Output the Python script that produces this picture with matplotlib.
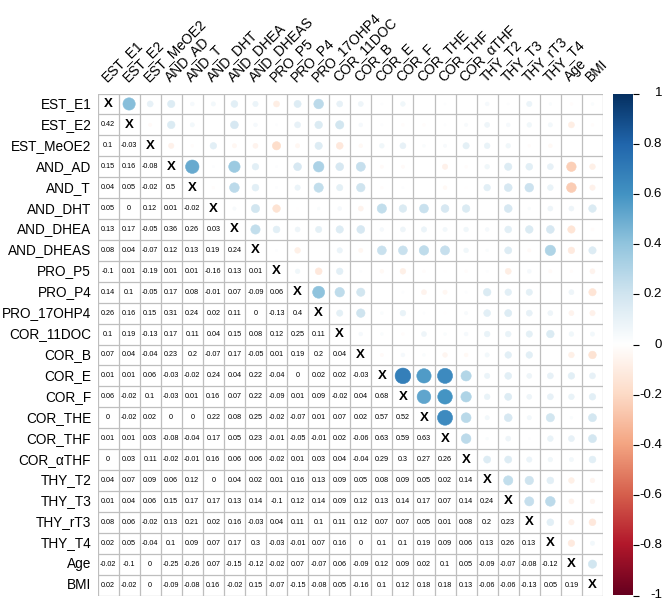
import numpy as np
import matplotlib
matplotlib.use("Agg")
import matplotlib.pyplot as plt
from matplotlib.colors import LinearSegmentedColormap
from matplotlib.transforms import blended_transform_factory

matplotlib.rc('font', family=['Liberation Sans', 'DejaVu Sans'])

labels = ["EST_E1", "EST_E2", "EST_MeOE2", "AND_AD", "AND_T", "AND_DHT", "AND_DHEA",
          "AND_DHEAS", "PRO_P5", "PRO_P4", "PRO_17OHP4", "COR_11DOC", "COR_B", "COR_E",
          "COR_F", "COR_THE", "COR_THF", "COR_\u03b1THF", "THY_T2", "THY_T3", "THY_rT3",
          "THY_T4", "Age", "BMI"]

# lower triangle, row by row (row i holds correlations with columns 0..i-1)
lower = [
    [],
    [0.42],
    [0.1, -0.03],
    [0.15, 0.16, -0.08],
    [0.04, 0.05, -0.02, 0.5],
    [0.05, 0, 0.12, 0.01, -0.02],
    [0.13, 0.17, -0.05, 0.36, 0.26, 0.03],
    [0.08, 0.04, -0.07, 0.12, 0.13, 0.19, 0.24],
    [-0.1, 0.01, -0.19, 0.01, 0.01, -0.16, 0.13, 0.01],
    [0.14, 0.1, -0.05, 0.17, 0.08, -0.01, 0.07, -0.09, 0.06],
    [0.26, 0.16, 0.15, 0.31, 0.24, 0.02, 0.11, 0, -0.13, 0.4],
    [0.1, 0.19, -0.13, 0.17, 0.11, 0.04, 0.15, 0.08, 0.12, 0.25, 0.11],
    [0.07, 0.04, -0.04, 0.23, 0.2, -0.07, 0.17, -0.05, 0.01, 0.19, 0.2, 0.04],
    [0.01, 0.01, 0.06, -0.03, -0.02, 0.24, 0.04, 0.22, -0.04, 0, 0.02, 0.02, -0.03],
    [0.06, -0.02, 0.1, -0.03, 0.01, 0.16, 0.07, 0.22, -0.09, 0.01, 0.09, -0.02, 0.04, 0.68],
    [0, -0.02, 0.02, 0, 0, 0.22, 0.08, 0.25, -0.02, -0.07, 0.01, 0.07, 0.02, 0.57, 0.52],
    [0.01, 0.01, 0.03, -0.08, -0.04, 0.17, 0.05, 0.23, -0.01, -0.05, -0.01, 0.02, -0.06,
     0.63, 0.59, 0.63],
    [0, 0.03, 0.11, -0.02, -0.01, 0.16, 0.06, 0.06, -0.02, 0.01, 0.03, 0.04, -0.04,
     0.29, 0.3, 0.27, 0.26],
    [0.04, 0.07, 0.09, 0.06, 0.12, 0, 0.04, 0.02, 0.01, 0.16, 0.13, 0.09, 0.05,
     0.08, 0.09, 0.05, 0.02, 0.14],
    [0.01, 0.04, 0.06, 0.15, 0.17, 0.17, 0.13, 0.14, -0.1, 0.12, 0.14, 0.09, 0.12,
     0.13, 0.14, 0.17, 0.07, 0.14, 0.24],
    [0.08, 0.06, -0.02, 0.13, 0.21, 0.02, 0.16, -0.03, 0.04, 0.11, 0.1, 0.11, 0.12,
     0.07, 0.07, 0.05, 0.01, 0.08, 0.2, 0.23],
    [0.02, 0.05, -0.04, 0.1, 0.09, 0.07, 0.17, 0.3, -0.03, -0.01, 0.07, 0.16, 0,
     0.1, 0.1, 0.19, 0.09, 0.06, 0.13, 0.26, 0.13],
    [-0.02, -0.1, 0, -0.25, -0.26, 0.07, -0.15, -0.12, -0.02, 0.07, -0.07, 0.06, -0.09,
     0.12, 0.09, 0.02, 0.1, 0.05, -0.09, -0.07, -0.08, -0.12],
    [0.02, -0.02, 0, -0.09, -0.08, 0.16, -0.02, 0.15, -0.07, -0.15, -0.08, 0.05, -0.16,
     0.1, 0.12, 0.18, 0.18, 0.13, -0.06, -0.06, -0.13, 0.05, 0.19],
]

cbar_ticks = [1, 0.8, 0.6, 0.4, 0.2, 0, -0.2, -0.4, -0.6, -0.8, -1]

n = len(labels)
corr = np.eye(n)
for i, row in enumerate(lower):
    for j, v in enumerate(row):
        corr[i, j] = v
        corr[j, i] = v

rdbu = ["#67001F", "#B2182B", "#D6604D", "#F4A582", "#FDDBC7", "#FFFFFF",
        "#D1E5F0", "#92C5DE", "#4393C3", "#2166AC", "#053061"]
cmap = LinearSegmentedColormap.from_list("corr_rdbu", rdbu, N=200)

W, H = 667, 605
fig = plt.figure(figsize=(W / 100, H / 100), dpi=100)
gx0, gx1, gy0, gy1 = 97.5, 603, 93.5, 595.5
ax = fig.add_axes([gx0 / W, 1 - gy1 / H, (gx1 - gx0) / W, (gy1 - gy0) / H])
ax.set_xlim(-0.5, n - 0.5)
ax.set_ylim(n - 0.5, -0.5)

# grid
for k in range(n + 1):
    ax.axhline(k - 0.5, color="#BEBEBE", lw=0.9, zorder=1)
    ax.axvline(k - 0.5, color="#BEBEBE", lw=0.9, zorder=1)

cell_px = (gx1 - gx0) / n
xs, ys, vals = [], [], []
for i in range(n):
    for j in range(n):
        if j > i:
            xs.append(j)
            ys.append(i)
            vals.append(corr[i, j])
        elif j < i:
            ax.text(j, i, "{:g}".format(corr[i, j]), ha="center", va="center",
                    fontsize=5.2, color="black", zorder=3)
        else:
            ax.text(j, i, "X", ha="center", va="center", fontsize=9.5,
                    fontweight="bold", color="black", zorder=3)
vals = np.array(vals)
diam_pt = 2 * 0.45 * np.sqrt(np.abs(vals)) * cell_px * 72 / 100
ax.scatter(xs, ys, s=diam_pt ** 2, c=vals, cmap=cmap, vmin=-1, vmax=1,
           edgecolors=cmap((vals + 1) / 2), linewidths=0.4, zorder=2)

ax.set_xticks([])
ax.set_yticks([])
for sp in ax.spines.values():
    sp.set_visible(False)

# row labels
for i, lab in enumerate(labels):
    ax.text(-0.8, i, lab, ha="right", va="center", fontsize=9.8)
# column labels
for j, lab in enumerate(labels):
    ax.text(j - 0.08, -1.06, lab, ha="left", va="baseline", rotation=45,
            rotation_mode="anchor", fontsize=10)

# colour legend
cax = fig.add_axes([613 / W, 1 - gy1 / H, 20 / W, (gy1 - gy0) / H])
grad = np.linspace(-1, 1, 200).reshape(-1, 1)
cax.imshow(grad, aspect="auto", cmap=cmap, origin="lower", extent=[0, 1, -1, 1])
cax.set_xlim(0, 1)
cax.set_ylim(-1, 1)
cax.set_xticks([])
cax.yaxis.tick_right()
cax.set_yticks(cbar_ticks)
cax.set_yticklabels([])
cax.tick_params(axis="y", length=4, width=0.8, direction="out")
for sp in cax.spines.values():
    sp.set_visible(False)
trans = blended_transform_factory(cax.transAxes, cax.transData)
for t in cbar_ticks:
    cax.text(2.45, t, "{:g}".format(t), transform=trans, ha="right", va="center",
             fontsize=9.5)

plt.savefig("out.png", dpi=100)
